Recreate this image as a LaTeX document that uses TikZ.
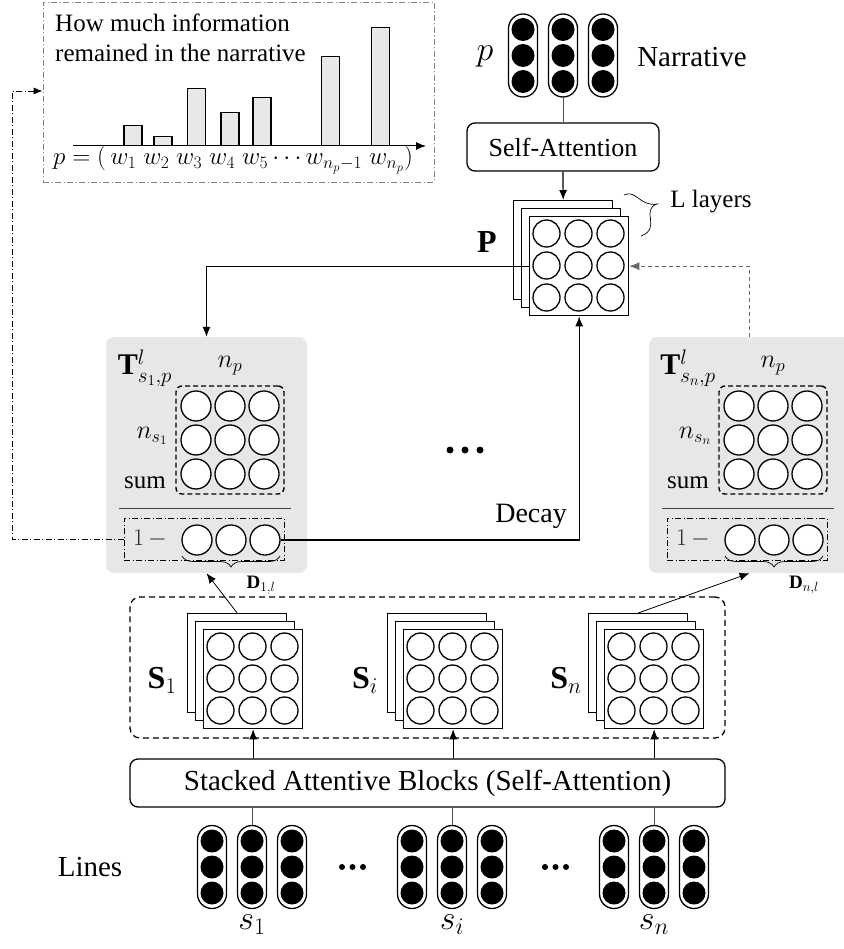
\RequirePackage{fix-cm}
\documentclass[tikz,border=0pt]{standalone}
\usepackage{fontspec}
\setmainfont{Liberation Serif}
\usetikzlibrary{arrows.meta,decorations.pathreplacing,calc}
\definecolor{tfill}{RGB}{231,231,231}
\definecolor{barfill}{RGB}{232,232,232}
\newcommand{\pillgroup}[3]{%
 \foreach \k/\dx in {a/-40,b/0,c/40}{%
  \node[pill] (#1\k) at ({#2+\dx},#3) {};
  \foreach \j/\dy in {1/-26,2/0,3/26}{\node[bdot] (#1\k\j) at ({#2+\dx},{#3+\dy}) {};}
 }}
\newcommand{\mystack}[3]{%
 \node[sq, anchor=north west] (#1b1) at (#2,#3) {};
 \node[sq, anchor=north west] (#1b2) at ({#2+8},{#3+8}) {};
 \node[sq, anchor=north west] (#1f) at ({#2+16},{#3+16}) {};
 \foreach \i/\dx in {1/-32,2/0,3/32}{\foreach \j/\dy in {1/-32,2/0,3/32}{%
   \node[ocirc] (#1c\i\j) at ({#2+65.5+\dx},{#3+65.5+\dy}) {};}}
}
\newcommand{\tpanelgrp}[5]{%
 \node[tpanel] (#1) at ({206.5+#2},455) {};
 \node[font=\fontsize{30}{34}\selectfont] (#1T) at ({145+#2},368) {$\mathbf{T}^{l}_{#3}$};
 \node[font=\fontsize{26}{30}\selectfont] (#1np) at ({230+#2},366) {$n_p$};
 \node[draw, line width=1.4pt, dash pattern=on 5pt off 3pt, rounded corners=6pt, minimum size=108pt] (#1g) at ({230+#2},440) {};
 \foreach \i/\dx in {1/-34,2/0,3/34}{\foreach \j/\dy in {1/-34,2/0,3/34}{%
   \node[tcirc] (#1c\i\j) at ({230+#2+\dx},{440+\dy}) {};}}
 \node[font=\fontsize{26}{30}\selectfont] (#1ns) at ({152+#2},436) {$n_{#4}$};
 \node[anchor=base, font=\fontsize{25}{30}\selectfont] (#1sum) at ({145+#2},488) {sum};
 \coordinate (#1l0) at ({119+#2},508);
 \coordinate (#1l1) at ({291+#2},508);
 \draw[line width=0.9pt, gray!50!black] (#1l0) -- (#1l1);
 \node[draw, ddot, minimum width=160pt, minimum height=42pt] (#1d) at ({204+#2},539) {};
 \node[font=\fontsize{24}{28}\selectfont, text=black!85] (#1one) at ({150+#2},539) {$1\,-$};
 \foreach \i/\dx in {1/-34,2/0,3/34}{\node[tcirc] (#1e\i) at ({231+#2+\dx},540) {};}
 \coordinate (#1br0) at ({182+#2},556);
 \coordinate (#1br1) at ({280+#2},556);
 \draw[decorate, decoration={brace, mirror, amplitude=11pt}, line width=0.7pt] (#1br0) -- (#1br1);
 \node[font=\fontsize{19}{22}\selectfont] (#1D) at ({261+#2},585) {$\mathbf{D}_{#5}$};
}
\begin{document}
\begin{tikzpicture}[x=1pt,y=-1pt,
  every node/.style={font=\fontsize{27}{32}\selectfont, inner sep=0pt},
  pill/.style={draw, line width=1.3pt, rounded corners=14.5pt, minimum width=29pt, minimum height=83pt, fill=white},
  bdot/.style={circle, fill=black, minimum size=23pt},
  ocirc/.style={circle, draw, line width=1.3pt, minimum size=27pt, fill=white},
  tcirc/.style={circle, draw, line width=1.3pt, minimum size=30pt, fill=white},
  sq/.style={draw, line width=1.3pt, fill=white, minimum size=99pt},
  rbox/.style={draw, line width=1.3pt, rounded corners=8pt},
  arr/.style={-{Latex[length=10pt,width=8pt]}, line width=1.2pt},
  thinarr/.style={-{Latex[length=10pt,width=8pt]}, line width=0.8pt},
  ddot/.style={dash pattern=on 6pt off 2.5pt on 1pt off 2.5pt, line width=0.8pt},
  bar/.style={draw, line width=1.2pt, fill=barfill, minimum width=18pt, anchor=south},
  tpanel/.style={fill=tfill, rounded corners=8pt, minimum width=201pt, minimum height=236pt},
  smalldot/.style={circle, fill=black, minimum size=7pt},
]
\useasboundingbox (0,0) rectangle (843,949);

% ---------- information chart ----------
\node[draw=gray, ddot, minimum width=391pt, minimum height=180pt] (info) at (238.5,92) {};
\node[anchor=base west, font=\fontsize{25}{30}\selectfont] (info1) at (55,32) {How much information};
\node[anchor=base west, font=\fontsize{25}{30}\selectfont] (info2) at (55,62) {remained in the narrative};
\coordinate (ax0) at (73,146);
\coordinate (ax1) at (426,146);
\draw[-{Latex[length=10pt,width=8pt]}, line width=1pt] (ax0) -- (ax1);
\foreach \n/\bx/\bh in {1/133/20,2/163/9,3/196.5/57,4/230/33,5/262/48,6/330.5/89,7/380.5/118}{%
  \node[bar, minimum height=\bh pt] (bar\n) at (\bx,146) {};}
\node[font=\fontsize{25}{30}\selectfont] (plab) at (233,160) {$p=(\,w_1\;w_2\;w_3\;w_4\;w_5\cdots w_{n_p-1}\;w_{n_p})$};

% ---------- narrative ----------
\pillgroup{np}{563}{55.5}
\node[font=\fontsize{34}{38}\selectfont] (plabel) at (485,56) {$p$};
\node[font=\fontsize{29}{34}\selectfont] (narr) at (692,57) {Narrative};
\node[rbox, minimum width=192pt, minimum height=48pt, font=\fontsize{26}{30}\selectfont] (sa) at (563,147) {Self-Attention};
\draw[gray!60!black, line width=0.9pt] (npb.south) -- (sa.north);

% ---------- P stack ----------
\mystack{P}{513}{200}
\draw[arr] (sa.south) -- (Pb1.north);
\node[font=\fontsize{32}{36}\selectfont] (Plabel) at (487,242) {\textbf{P}};
\node[font=\fontsize{25}{30}\selectfont] (ll) at (711,202) {L layers};
\coordinate (sq0) at (624,195);
\coordinate (sq1) at (657,204);
\coordinate (sq2) at (641,236);
\draw[line width=0.7pt] (sq0) .. controls (636,189) and (640,207) .. (sq1) .. controls (640,210) and (662,228) .. (sq2);

% ---------- T panels ----------
\tpanelgrp{T1}{0}{s_1,p}{s_1}{1,l}
\tpanelgrp{Tn}{543}{s_n,p}{s_n}{n,l}

\node[smalldot] (md1) at (450,450) {};
\node[smalldot] (md2) at (465,450) {};
\node[smalldot] (md3) at (480,450) {};

% connectors around P
\draw[arr] (Pf.west) -| (T1.north);
\draw[-{Latex[length=10pt,width=8pt]}, line width=0.8pt, gray!80!black, dash pattern=on 4pt off 3pt] (Tn.north) |- (Pf.east);
\draw[arr] (T1e3.east) -| (Pf.south);
\node[anchor=base east, font=\fontsize{28}{32}\selectfont] (decay) at (567,522) {Decay};

% left feedback connector
\coordinate (lc1) at (12,539);
\coordinate (lc2) at (12,91);
\draw[ddot, -{Latex[length=9pt,width=7pt]}] (T1d.west) -- (lc1) -- (lc2) -- (info.west |- lc2);

% ---------- S stacks ----------
\node[draw, line width=1.3pt, dash pattern=on 6pt off 4pt, rounded corners=10pt, minimum width=595pt, minimum height=141pt] (sbox) at (427.5,667.5) {};
\mystack{Sa}{187}{613}
\mystack{Sb}{387}{613}
\mystack{Sc}{588}{613}
\node[font=\fontsize{32}{36}\selectfont] (Sal) at (162,680) {$\mathbf{S}_1$};
\node[font=\fontsize{32}{36}\selectfont] (Sbl) at (365,680) {$\mathbf{S}_i$};
\node[font=\fontsize{32}{36}\selectfont] (Scl) at (566,680) {$\mathbf{S}_n$};
\draw[thinarr] (Sab1.north) -- (T1.south);
\draw[thinarr] (Scb1.north) -- (Tn.south);

% ---------- stacked blocks ----------
\node[rbox, minimum width=595pt, minimum height=48pt, font=\fontsize{29}{34}\selectfont] (stk) at (427.5,783) {Stacked Attentive Blocks (Self-Attention)};
\draw[thinarr] (Saf.south |- stk.north) -- (Saf.south);
\draw[thinarr] (Sbf.south |- stk.north) -- (Sbf.south);
\draw[thinarr] (Scf.south |- stk.north) -- (Scf.south);

% ---------- lines ----------
\pillgroup{ga}{252}{867}
\pillgroup{gb}{452}{867}
\pillgroup{gc}{654}{867}
\draw[gray!60!black, line width=0.9pt] (gab.north) -- (gab.north |- stk.south);
\draw[gray!60!black, line width=0.9pt] (gbb.north) -- (gbb.north |- stk.south);
\draw[gray!60!black, line width=0.9pt] (gcb.north) -- (gcb.north |- stk.south);
\node[font=\fontsize{29}{34}\selectfont] (lines) at (90,867) {Lines};
\node[smalldot, minimum size=6pt] (ld1) at (342,867) {};
\node[smalldot, minimum size=6pt] (ld2) at (352.5,867) {};
\node[smalldot, minimum size=6pt] (ld3) at (363,867) {};
\node[smalldot, minimum size=6pt] (rd1) at (545,867) {};
\node[smalldot, minimum size=6pt] (rd2) at (555.5,867) {};
\node[smalldot, minimum size=6pt] (rd3) at (566,867) {};
\node[font=\fontsize{34}{38}\selectfont] (s1l) at (252,925) {$s_1$};
\node[font=\fontsize{34}{38}\selectfont] (sil) at (452,925) {$s_i$};
\node[font=\fontsize{34}{38}\selectfont] (snl) at (654,925) {$s_n$};
\end{tikzpicture}
\end{document}
